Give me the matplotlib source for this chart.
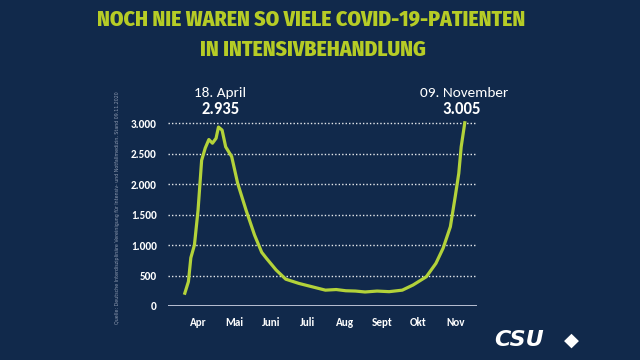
import matplotlib
matplotlib.use("Agg")
import matplotlib.pyplot as plt
import pandas as pd
import warnings
import logging

logging.getLogger("matplotlib.font_manager").setLevel(logging.ERROR)
warnings.filterwarnings("ignore")

# --- data ---
dates = ["2020-03-21", "2020-03-24", "2020-03-26", "2020-03-29", "2020-04-01",
         "2020-04-04", "2020-04-07", "2020-04-10", "2020-04-13", "2020-04-16",
         "2020-04-18", "2020-04-21", "2020-04-24", "2020-04-29", "2020-05-04",
         "2020-05-11", "2020-05-18", "2020-05-24", "2020-05-28", "2020-06-05",
         "2020-06-13", "2020-06-24", "2020-07-05", "2020-07-16", "2020-07-25",
         "2020-08-02", "2020-08-10", "2020-08-18", "2020-08-28", "2020-09-07",
         "2020-09-18", "2020-09-27", "2020-10-08", "2020-10-16", "2020-10-22",
         "2020-10-28", "2020-11-01", "2020-11-04", "2020-11-06", "2020-11-09"]
patients = [210, 400, 790, 1000, 1570,
            2390, 2590, 2730, 2670, 2750,
            2935, 2885, 2610, 2450, 2010,
            1570, 1165, 880, 780, 590,
            440, 370, 315, 260, 270,
            250, 245, 230, 245, 235,
            260, 345, 480, 700, 950,
            1300, 1790, 2175, 2610, 3005]

month_ticks = ["2020-04-01", "2020-05-01", "2020-06-01", "2020-07-01",
               "2020-08-01", "2020-09-01", "2020-10-01", "2020-11-01"]
month_labels = ["Apr", "Mai", "Juni", "Juli", "Aug", "Sept", "Okt", "Nov"]
y_ticks = [0, 500, 1000, 1500, 2000, 2500, 3000]
y_labels = ["0", "500", "1.000", "1.500", "2.000", "2.500", "3.000"]

BG = "#11294b"
GREEN = "#b3d23a"
BODY = ["Carlito", "Fira Sans", "DejaVu Sans"]

x = pd.to_datetime(dates)

fig = plt.figure(figsize=(6.4, 3.6), dpi=100, facecolor=BG)
ax = fig.add_axes([0.2625, 0.15, 0.4825, 0.542])
ax.set_facecolor(BG)

ax.plot(x, patients, color=GREEN, lw=2.3, solid_joinstyle="round", zorder=3)

ax.set_xlim(pd.Timestamp("2020-03-07"), pd.Timestamp("2020-11-19"))
ax.set_ylim(0, 3200)

# dotted grid + solid baseline
for v in y_ticks[1:]:
    ax.axhline(v, color="white", lw=1, ls=(0, (1, 1.5)), alpha=0.9, zorder=1)
ax.axhline(0, color="#c9cde0", lw=2, zorder=2)

for s in ax.spines.values():
    s.set_visible(False)

ax.set_yticks(y_ticks)
ax.set_yticklabels(y_labels)
ax.set_xticks(pd.to_datetime(month_ticks))
ax.set_xticklabels(month_labels)
ax.tick_params(length=0, colors="white", labelsize=8)
ax.tick_params(axis="y", pad=8)
ax.tick_params(axis="x", pad=8)
for lab in ax.get_xticklabels() + ax.get_yticklabels():
    lab.set_fontweight("bold")
    lab.set_color("white")
    lab.set_family(BODY)

# annotations
peak1 = (pd.Timestamp(dates[10]), patients[10])
peak2 = (pd.Timestamp(dates[-1]), patients[-1])
ax.annotate("18. April", xy=peak1, xytext=(220.5 / 640, 1 - 93 / 360),
            textcoords="figure fraction", ha="center", va="center",
            color="white", fontsize=11, family=BODY)
ax.annotate("2.935", xy=peak1, xytext=(220.5 / 640, 1 - 108.5 / 360),
            textcoords="figure fraction", ha="center", va="center",
            color="white", fontsize=12, fontweight="bold", family=BODY)
ax.annotate("09. November", xy=peak2, xytext=(464 / 640, 1 - 93 / 360),
            textcoords="figure fraction", ha="center", va="center",
            color="white", fontsize=11, family=BODY)
ax.annotate("3.005", xy=peak2, xytext=(461.5 / 640, 1 - 108.5 / 360),
            textcoords="figure fraction", ha="center", va="center",
            color="white", fontsize=12, fontweight="bold", family=BODY)

# title, in a condensed face if one is there; size fitted to the reference width
title_font = ["Fira Sans Condensed", "Roboto Condensed", "Oswald",
              "Liberation Sans Narrow", "DejaVu Sans"]
t1 = fig.text(0.5 - 9 / 640, 1 - 19.5 / 360,
              "NOCH NIE WAREN SO VIELE COVID-19-PATIENTEN",
              ha="center", va="center", color="#b6cc26", fontsize=16,
              fontweight="heavy", family=title_font)
t2 = fig.text(0.5 - 7 / 640, 1 - 50 / 360, "IN INTENSIVBEHANDLUNG",
              ha="center", va="center", color="#b6cc26", fontsize=16,
              fontweight="heavy", family=title_font)
r = fig.canvas.get_renderer()
w = t1.get_window_extent(r).width
size = min(16.5, 16 * 428 / w)
t1.set_fontsize(size)
t2.set_fontsize(size)

# source note
fig.text(117 / 640, 1 - 208 / 360,
         "Quelle: Deutsche Interdisziplinäre Vereinigung für Intensiv- und "
         "Notfallmedizin, Stand 09.11.2020",
         rotation=90, ha="center", va="center", color="#8e9ab0", fontsize=3.4)

# logo
fig.text(494 / 640, 1 - 340 / 360, "CSU", ha="left", va="center",
         color="white", fontsize=16, fontweight="heavy", style="italic")
fig.text(571 / 640, 1 - 340 / 360, "◆", ha="center", va="center",
         color="white", fontsize=14)

fig.savefig("out.png", dpi=100, facecolor=BG)
